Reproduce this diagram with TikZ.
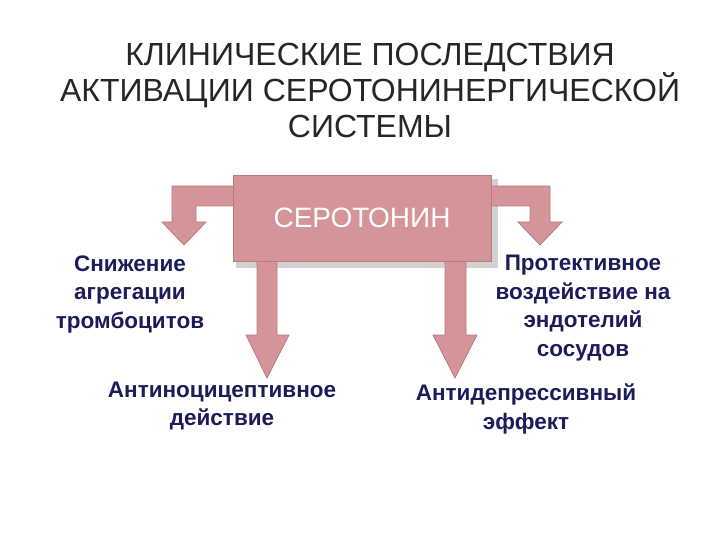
\documentclass[tikz,border=0pt]{standalone}
\usepackage{fontspec}
\setmainfont{Liberation Sans}
\definecolor{pinkc}{HTML}{D49498}
\definecolor{pinkd}{HTML}{B87C80}
\definecolor{navy}{HTML}{1C1C5A}
\begin{document}
\begin{tikzpicture}[x=1pt,y=-1pt,
  arr/.style={fill=pinkc,draw=pinkd,line width=0.8pt},
  shad/.style={fill=black!35,opacity=0.5},
  lbl/.style={font=\bfseries\fontsize{22.5}{28.5}\selectfont,text=navy,align=center},
  ttl/.style={font=\fontsize{32}{36}\selectfont,text=black!85,align=center}]
\useasboundingbox (0,0) rectangle (720,540);
\node[ttl] (title) at (370,90) {КЛИНИЧЕСКИЕ ПОСЛЕДСТВИЯ\\АКТИВАЦИИ СЕРОТОНИНЕРГИЧЕСКОЙ\\СИСТЕМЫ};
% shadows
\fill[shad] (236,179) rectangle (498,268);
% left bent arrow
\draw[arr] (234,186) -- (172,186) -- (172,222) -- (162,222) -- (184,245) -- (206,222) -- (196,222) -- (196,206) -- (234,206) -- cycle;
% right bent arrow
\draw[arr] (490,186) -- (550,186) -- (550,222) -- (562,222) -- (540,245) -- (518,222) -- (530,222) -- (530,206) -- (490,206) -- cycle;
% down arrows
\draw[arr] (257,258) -- (257,335) -- (246,335) -- (267,378) -- (289,335) -- (277,335) -- (277,258) -- cycle;
\draw[arr] (445,258) -- (445,335) -- (433,335) -- (455,378) -- (477,335) -- (466,335) -- (466,258) -- cycle;
% box
\node[draw=pinkd,fill=pinkc,minimum width=258pt,minimum height=86pt,inner sep=0pt,line width=0.8pt,
  text=white,font=\fontsize{28}{30}\selectfont] (sero) at (362,218) {СЕРОТОНИН};
\node[lbl] (a) at (130,294) {Снижение\\агрегации\\тромбоцитов};
\node[lbl] (b) at (583,308) {Протективное\\воздействие на\\эндотелий\\сосудов};
\node[lbl] (c) at (222,406) {Антиноцицептивное\\действие};
\node[lbl] (d) at (526,409) {Антидепрессивный\\эффект};
\end{tikzpicture}
\end{document}
